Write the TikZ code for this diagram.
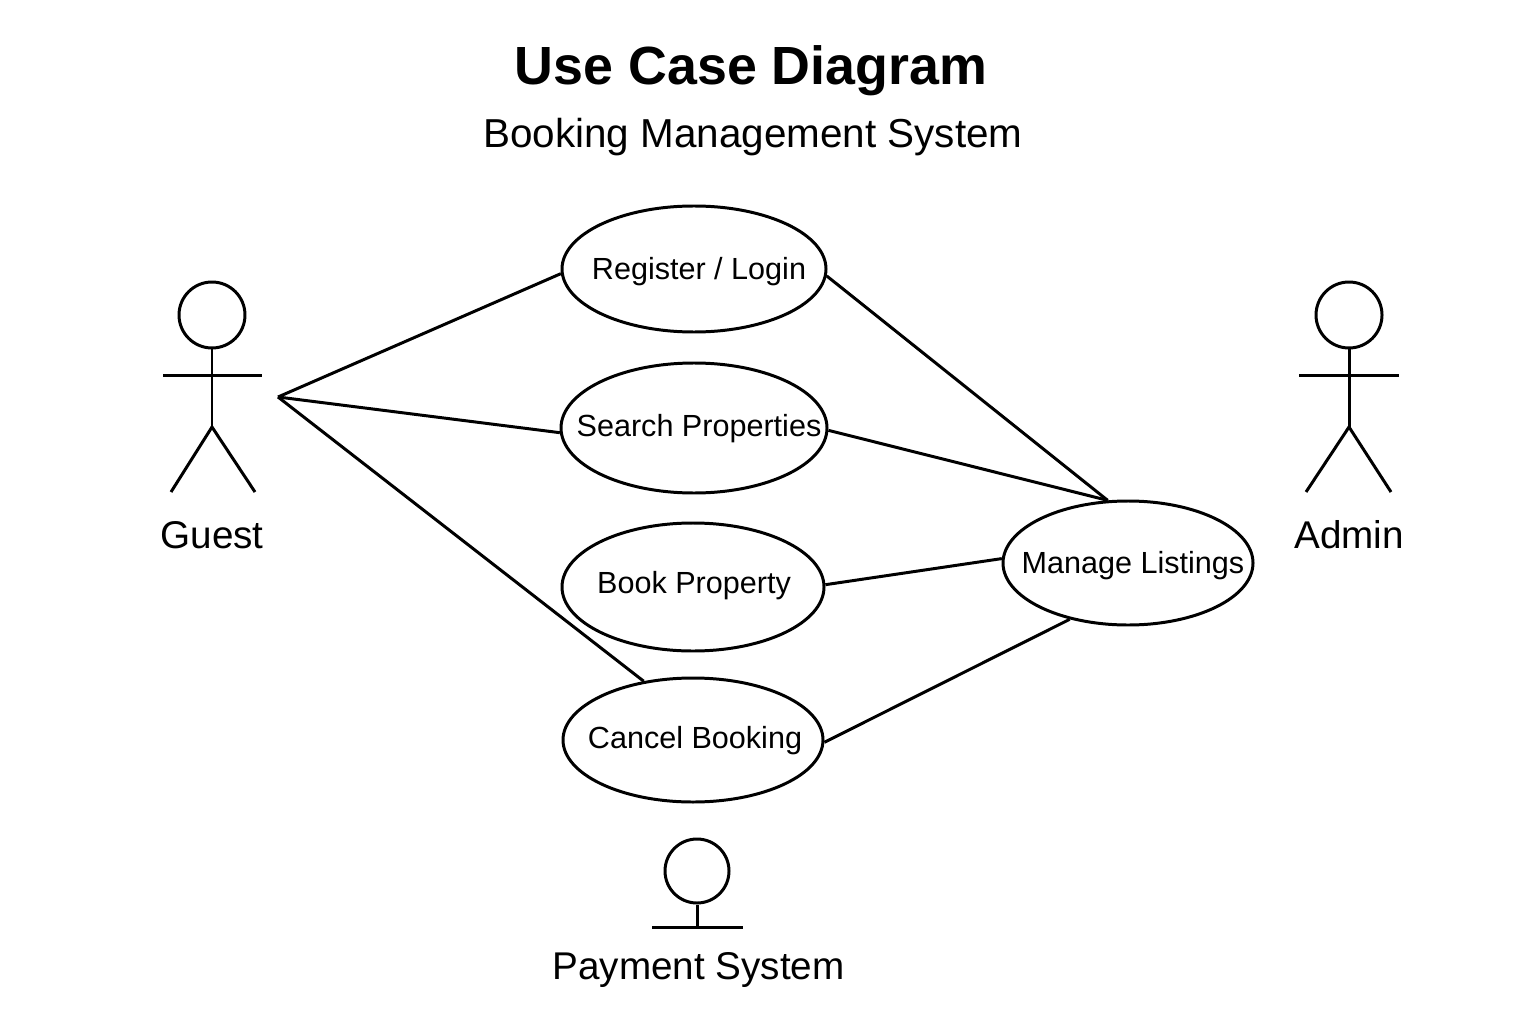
\documentclass[tikz,border=0pt]{standalone}
\usepackage{fontspec}
\setmainfont{Liberation Sans}
\usetikzlibrary{shapes.geometric}
\tikzset{
	usecase/.style={draw, ellipse, line width=0.85pt, inner sep=0pt},
	uclabel/.style={font=\fontsize{8.7}{10}\selectfont},
	head/.style={draw, circle, line width=0.85pt, inner sep=0pt, minimum size=0.66cm},
	actorname/.style={font=\fontsize{11}{13}\selectfont},
	link/.style={line width=0.85pt}
}

\begin{document}
\begin{tikzpicture}
	\useasboundingbox (0,0) rectangle (15.36,10.24);
	% titles
	\node[font=\fontsize{15.3}{18}\selectfont\bfseries] (title) at (7.51,9.53) {Use Case Diagram};
	\node[font=\fontsize{11.5}{14}\selectfont] (subtitle) at (7.53,8.87) {Booking Management System};
	% use cases
	\node[usecase, minimum width=2.64cm, minimum height=1.26cm, label={[uclabel, xshift=0.05cm, yshift=-0.03cm]center:Register / Login}] (register) at (6.94,7.55) {};
	\node[usecase, minimum width=2.66cm, minimum height=1.3cm, label={[uclabel, xshift=0.05cm, yshift=-0.01cm]center:Search Properties}] (search) at (6.94,5.96) {};
	\node[usecase, minimum width=2.62cm, minimum height=1.28cm, label={[uclabel, xshift=0.01cm, yshift=0.01cm]center:Book Property}] (book) at (6.93,4.37) {};
	\node[usecase, minimum width=2.6cm, minimum height=1.24cm, label={[uclabel, xshift=0.02cm, yshift=-0.01cm]center:Cancel Booking}] (cancel) at (6.93,2.84) {};
	\node[usecase, minimum width=2.5cm, minimum height=1.24cm, label={[uclabel, xshift=0.05cm, yshift=-0.03cm]center:Manage Listings}] (manage) at (11.28,4.61) {};
	% guest
	\node[head] (guesthead) at (2.12,7.09) {};
	\coordinate (guesthip) at (2.12,5.97);
	\coordinate (guestapex) at (2.78,6.27);
	\draw[link] (guesthead) -- (guesthip);
	\draw[link] (1.63,6.485) -- (2.62,6.485);
	\draw[link] (1.71,5.32) -- (guesthip) -- (2.55,5.32);
	\node[actorname] (guest) at (2.12,4.89) {Guest};
	% admin
	\node[head] (adminhead) at (13.49,7.09) {};
	\coordinate (adminhip) at (13.49,5.97);
	\draw[link] (adminhead) -- (adminhip);
	\draw[link] (12.99,6.485) -- (13.99,6.485);
	\draw[link] (13.06,5.32) -- (adminhip) -- (13.91,5.32);
	\node[actorname] (admin) at (13.49,4.89) {Admin};
	% payment system
	\node[head, minimum size=0.64cm] (payhead) at (6.97,1.53) {};
	\coordinate (paybase) at (6.97,0.97);
	\draw[link] (payhead) -- (paybase);
	\draw[link] (6.52,0.97) -- (7.43,0.97);
	\node[actorname] (payment) at (6.985,0.54) {Payment System};
	% links
	\draw[link] (guestapex) -- (register.182);
	\draw[link] (guestapex) -- (search.182);
	\draw[link] (guestapex) -- (cancel.130);
	\draw[link] (register.-3) -- (manage.108);
	\draw[link] (search.-1) -- (manage.108);
	\draw[link] (book.1.5) -- (manage.178);
	\draw[link] (cancel.-1.5) -- (manage.-136);
\end{tikzpicture}
\end{document}
